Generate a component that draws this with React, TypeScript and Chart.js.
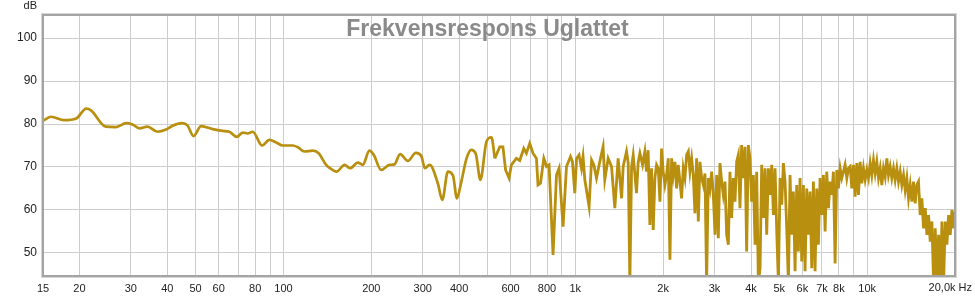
import React, { useEffect, useRef } from 'react';
import { Chart, registerables } from 'chart.js';

Chart.register(...registerables);

// Smooth low-frequency part (Hz / dB)
const lowFreq = [15, 16, 17.7, 19.5, 21.1, 21.9, 24.6, 26.7, 28.9, 30.4, 32.1, 34.2, 37, 39.6, 41.7, 44.9, 46.9, 49.2, 52.2, 57.2, 61.9, 65.3, 69.2, 72.5, 75.4, 78.5, 84.5, 89.5, 94.4, 99.5, 107.6, 112, 118, 126, 132, 140, 144, 152, 162, 169, 180, 187, 197, 204, 216, 231, 240, 251, 267, 284, 297, 305, 317, 338, 350, 366, 381, 393, 407, 424, 440, 456, 473, 496, 516, 530];
const lowDb = [80.8, 81.7, 80.9, 81.3, 83.6, 83.2, 79.4, 79.3, 80.2, 79.9, 79.0, 79.4, 78.2, 78.7, 79.6, 80.2, 79.7, 77.2, 79.5, 78.8, 78.4, 78.2, 77.0, 78.0, 77.8, 78.2, 75.0, 76.3, 75.7, 75.0, 75.0, 74.6, 73.6, 73.8, 73.2, 70.5, 69.8, 68.9, 70.5, 69.7, 71.0, 70.5, 73.8, 72.8, 69.3, 70.5, 70.6, 73.0, 71.4, 73.3, 72.5, 69.7, 70.5, 66.2, 62.3, 68.9, 68.0, 62.7, 66.6, 72.0, 74.0, 73.1, 67.0, 75.9, 76.9, 72.0];

// Mid part (Hz / dB)
const midFreq = [530, 551, 565, 577, 593, 604, 628, 645, 666, 680, 698, 716, 736, 745, 760, 780, 797, 813, 839, 862, 880, 908, 933, 963, 978, 996, 1010, 1030, 1050, 1063, 1078, 1115, 1137, 1157, 1182, 1213, 1245, 1262, 1296, 1331, 1366, 1402, 1441, 1459, 1498, 1518, 1538, 1559, 1579, 1621, 1642, 1665, 1700];
const midDb = [72.0, 74.7, 74.7, 69.3, 67.4, 70.5, 72.0, 71.5, 74.3, 73.2, 75.5, 73.2, 72.0, 65.8, 66.2, 72.0, 70.1, 70.5, 49.5, 68.1, 69.7, 56.1, 70.1, 72.4, 71.2, 63.9, 72.0, 72.8, 69.7, 72.4, 67.0, 60.8, 71.6, 70.5, 67.4, 71.2, 74.7, 67.0, 72.0, 70.1, 60.4, 72.0, 62.7, 70.1, 73.6, 71.0, 43, 70.1, 72.8, 63.9, 71.0, 73.2, 70.5];

// Dense high-frequency part (Hz / dB)
const highFreq = [
  1731, 1754, 1777, 1801, 1825, 1849, 1874, 1899, 1924, 1950,
  1975, 2001, 2028, 2055, 2082, 2110, 2138, 2166, 2195, 2224,
  2253, 2283, 2313, 2344, 2375, 2407, 2439, 2471, 2504, 2537,
  2570, 2605, 2639, 2674, 2710, 2746, 2782, 2818, 2856, 2894,
  2932, 2971, 3011, 3051, 3090, 3131, 3173, 3215, 3258, 3301,
  3345, 3388, 3433, 3479, 3525, 3572, 3619, 3667, 3715, 3765,
  3815, 3865, 3917, 3968, 4021, 4075, 4129, 4183, 4239, 4296,
  4352, 4411, 4469, 4528, 4588, 4649, 4710, 4773, 4836, 4900,
  4965, 5030, 5097, 5164, 5233, 5302, 5372, 5443, 5515, 5588,
  5662, 5737, 5813, 5890, 5968, 6047, 6127, 6209, 6291, 6374,
  6459, 6544, 6631, 6719, 6808, 6898, 6990, 7082, 7176, 7271,
  7368, 7465, 7564, 7664, 7766, 7870, 7974, 8080, 8187, 8295,
  8404, 8518, 8630, 8745, 8860, 8978, 9096, 9218, 9340, 9462,
  9587, 9714, 9844, 9975, 10106, 10240, 10375, 10512, 10653, 10794,
  10937, 11081, 11227, 11376, 11527, 11679, 11834, 11990, 12148, 12311,
  12474, 12639, 12806, 12976, 13147, 13324, 13500, 13679, 13859, 14043,
  14229, 14417, 14608, 14801, 14997, 15195, 15399, 15603, 15812, 16021,
  16233, 16448, 16669, 16890, 17113, 17340, 17569, 17804, 18040, 18278,
  18520, 18765, 19011, 19265, 19520, 19778, 20000,
];
const highDb = [
  73.6, 68.9, 73.9, 56.5, 69.7, 55.3, 67.4, 70.5, 69.7, 61.9,
  74.3, 68.9, 65.8, 68.1, 72.0, 48.4, 72.0, 68.1, 71.2, 65.0,
  70.5, 66.6, 62.7, 69.7, 67.4, 72.8, 73.6, 68.9, 72.0, 68.1,
  59.2, 72.0, 57.3, 71.2, 67.4, 65.8, 68.5, 43, 67.4, 65.0,
  68.9, 63.5, 54.2, 68.1, 53.4, 70.9, 66.6, 63.5, 66.6, 54.2,
  51.9, 68.9, 58.1, 67.4, 61.9, 71.2, 72.8, 60.4, 75.1, 67.4,
  74.7, 50.3, 75.1, 72.0, 61.9, 68.1, 51.9, 68.9, 43, 46.4,
  70.5, 58.1, 69.7, 54.2, 69.7, 63.5, 70.5, 58.8, 69.7, 55.0,
  43, 67.4, 61.2, 70.9, 66.6, 55.7, 43, 68.1, 54.2, 64.3,
  45.7, 65.8, 50.3, 67.4, 48.0, 65.8, 45.7, 65.0, 54.2, 64.3,
  46.4, 66.6, 45.7, 65.0, 51.9, 67.4, 58.8, 68.1, 55.0, 68.9,
  60.4, 66.6, 63.5, 68.9, 47.5, 69.3, 65.0, 69.7, 67.4, 68.9,
  70.5, 67.4, 69.7, 70.1, 65.0, 70.5, 63.1, 70.9, 63.5, 71.2,
  66.2, 69.7, 67.0, 69.3, 67.4, 70.9, 68.1, 71.6, 68.5, 71.2,
  67.4, 69.7, 65.8, 69.7, 67.7, 72.0, 68.1, 70.1, 67.4, 69.7,
  67.0, 69.7, 66.6, 68.9, 65.8, 68.1, 64.6, 67.4, 62.7, 65.8,
  61.9, 66.6, 61.5, 65.8, 66.6, 58.8, 62.7, 55.7, 60.4, 54.2,
  58.8, 52.6, 57.3, 43, 55.7, 43, 54.2, 43, 57.3, 43,
  57.3, 51.9, 58.8, 54.2, 60.0, 55.7, 59.6,
];

const xTickValues = [15, 20, 30, 40, 50, 60, 70, 80, 90, 100, 200, 300, 400, 500, 600, 700, 800, 900, 1000, 2000, 3000, 4000, 5000, 6000, 7000, 8000, 9000, 10000, 20000];
const xTickLabels = ['15', '20', '30', '40', '50', '60', '', '80', '', '100', '200', '300', '400', '', '600', '', '800', '', '1k', '2k', '3k', '4k', '5k', '6k', '7k', '8k', '', '10k', ''];
const yTickValues = [50, 60, 70, 80, 90, 100];
const lastXLabel = '20,0k Hz';
const yUnit = 'dB';
const TITLE = 'Frekvensrespons Uglattet';

const LINE_COLOR = '#B88F0E';
const FONT = '"Liberation Sans", Arial, sans-serif';

const toPoints = (f: number[], d: number[]) => f.map((v, i) => ({ x: v, y: d[i] }));

export default function App() {
  const ref = useRef<HTMLCanvasElement | null>(null);

  useEffect(() => {
    if (!ref.current) return;
    const decor = {
      id: 'decor',
      afterDraw(chart: any) {
        const { ctx, chartArea: a, width } = chart;
        ctx.save();
        ctx.strokeStyle = '#d6d6d6';
        ctx.lineWidth = 1;
        ctx.strokeRect(a.left - 1.5, a.top - 1.5, a.right - a.left + 3, a.bottom - a.top + 3);
        ctx.strokeStyle = '#a4a4a4';
        ctx.lineWidth = 2;
        ctx.strokeRect(a.left, a.top, a.right - a.left, a.bottom - a.top);
        ctx.fillStyle = '#8a8a8a';
        ctx.font = `bold 23px ${FONT}`;
        ctx.textAlign = 'center';
        ctx.textBaseline = 'middle';
        ctx.fillText(TITLE, width / 2, 30);
        ctx.fillStyle = '#222';
        ctx.font = `11px ${FONT}`;
        ctx.textAlign = 'right';
        ctx.fillText(yUnit, 37, 6);
        ctx.fillText(lastXLabel, 972, 288);
        ctx.restore();
      },
    };

    const chart = new Chart(ref.current, {
      type: 'line',
      data: {
        datasets: [
          {
            data: toPoints(lowFreq, lowDb),
            borderColor: LINE_COLOR,
            borderWidth: 2.7,
            pointRadius: 0,
            cubicInterpolationMode: 'monotone',
          },
          {
            data: toPoints(midFreq.concat(highFreq), midDb.concat(highDb)),
            borderColor: LINE_COLOR,
            borderWidth: 2.8,
            pointRadius: 0,
            tension: 0,
          },
        ],
      },
      options: {
        animation: false,
        responsive: false,
        devicePixelRatio: 1,
        layout: { padding: { left: 0, top: 15, right: 20, bottom: 0 } },
        plugins: { legend: { display: false }, tooltip: { enabled: false }, title: { display: false } },
        scales: {
          x: {
            type: 'logarithmic',
            min: 15,
            max: 20000,
            border: { display: false },
            grid: { color: '#cdcdcd', lineWidth: 1, drawTicks: false },
            afterBuildTicks: (s: any) => {
              s.ticks = xTickValues.map((v) => ({ value: v }));
            },
            afterFit: (s: any) => {
              s.height = 22;
              s.paddingLeft = 0;
              s.paddingRight = 0;
            },
            ticks: {
              autoSkip: false,
              maxRotation: 0,
              minRotation: 0,
              padding: 6,
              color: '#222',
              font: { family: FONT, size: 11 },
              callback: (v: any) => {
                const i = xTickValues.indexOf(Number(v));
                return i >= 0 ? xTickLabels[i] : '';
              },
            },
          },
          y: {
            type: 'linear',
            min: 44.6,
            max: 105.4,
            border: { display: false },
            grid: { color: '#cdcdcd', lineWidth: 1, drawTicks: false },
            afterBuildTicks: (s: any) => {
              s.ticks = yTickValues.map((v) => ({ value: v }));
            },
            afterFit: (s: any) => {
              s.width = 43;
              s.paddingTop = 0;
              s.paddingBottom = 0;
            },
            ticks: {
              padding: 6,
              color: '#222',
              font: { family: FONT, size: 12 },
              callback: (v: any) => String(v),
            },
          },
        },
      },
      plugins: [decor],
    } as any);
    return () => chart.destroy();
  }, []);

  return (
    <div style={{ position: 'absolute', left: 0, top: 0, width: 975, height: 298, background: '#fff' }}>
      <canvas ref={ref} width={975} height={298} style={{ display: 'block', width: 975, height: 298 }} />
    </div>
  );
}
